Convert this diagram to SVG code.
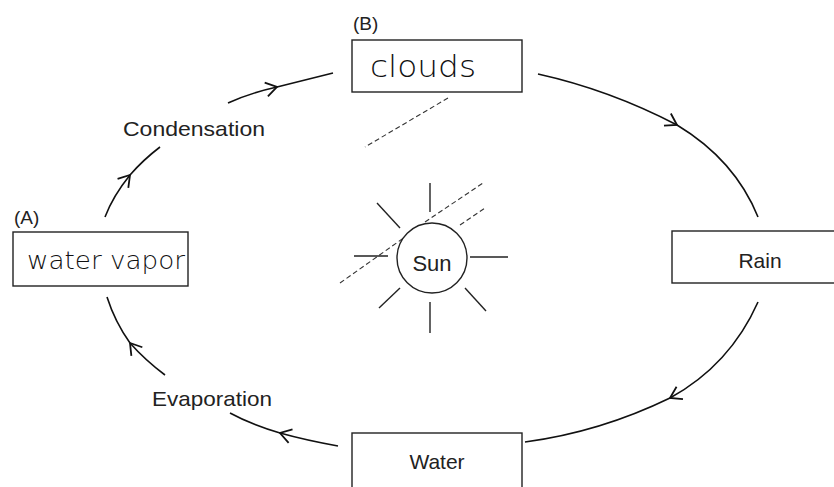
<svg xmlns="http://www.w3.org/2000/svg" width="834" height="487" viewBox="0 0 834 487">
<style>
.box{fill:#fff;stroke:#222;stroke-width:1.4}
.lbl{font-family:"Liberation Sans",Arial,sans-serif;fill:#222}
.hand{font-family:"DejaVu Sans","Liberation Sans",sans-serif;fill:#111;font-weight:300}
.conn{fill:none;stroke:#111;stroke-width:1.6;marker-mid:url(#arr)}
.ray{stroke:#222;stroke-width:1.4;fill:none}
.dash{stroke:#333;stroke-width:1.1;stroke-dasharray:5 3;fill:none}
</style>
<defs>
<marker id="arr" markerUnits="userSpaceOnUse" markerWidth="24" markerHeight="24" refX="0" refY="0" viewBox="-14 -12 24 24" orient="auto" overflow="visible">
<path d="M-11,-7 L0,0 L-11,7" fill="none" stroke="#111" stroke-width="1.8"/>
</marker>
</defs>
<rect width="834" height="487" fill="#fff"/>
<g id="connectors">
<path class="conn" d="M105,217 Q113,196 130,175 Q143,160 160,147"/>
<path class="conn" d="M228,103 Q250,93 277,87 Q305,80 333,73"/>
<path class="conn" d="M538,74 Q610,90 677,125 Q735,160 758,217"/>
<path class="conn" d="M758,302 Q730,365 670,398 Q600,432 525,442"/>
<path class="conn" d="M338,446 Q305,440 280,433 Q250,424 230,413"/>
<path class="conn" d="M165,375 Q145,360 130,343 Q115,322 107,297"/>
</g>
<g id="clouds">
<text class="lbl" x="353" y="30" font-size="19">(B)</text>
<rect class="box" x="352" y="40" width="170" height="52"/>
<text class="hand" x="370" y="77" font-size="30" textLength="106" lengthAdjust="spacingAndGlyphs">clouds</text>
</g>
<g id="water-vapor">
<text class="lbl" x="14" y="224" font-size="19">(A)</text>
<rect class="box" x="13" y="232" width="175" height="54"/>
<text class="hand" x="27" y="269" font-size="25" textLength="158" lengthAdjust="spacingAndGlyphs">water vapor</text>
</g>
<g id="rain">
<rect class="box" x="672" y="231" width="170" height="52"/>
<text class="lbl" x="760" y="268" font-size="21" text-anchor="middle">Rain</text>
</g>
<g id="water">
<rect class="box" x="352" y="433" width="170" height="60"/>
<text class="lbl" x="437" y="469" font-size="21" text-anchor="middle">Water</text>
</g>
<g id="condensation">
<text class="lbl" x="123" y="136" font-size="21" textLength="142" lengthAdjust="spacingAndGlyphs">Condensation</text>
</g>
<g id="evaporation">
<text class="lbl" x="152" y="406" font-size="21" textLength="120" lengthAdjust="spacingAndGlyphs">Evaporation</text>
</g>
<g id="sun">
<path class="dash" d="M448,98 L365,147"/>
<path class="dash" d="M340,283 L405,237"/>
<path class="dash" d="M425,222 L483,183"/>
<line class="ray" x1="430" y1="183" x2="430" y2="212"/>
<line class="ray" x1="377" y1="203" x2="400" y2="228"/>
<line class="ray" x1="354" y1="256" x2="388" y2="256"/>
<line class="ray" x1="470" y1="257" x2="508" y2="257"/>
<line class="ray" x1="379" y1="308" x2="400" y2="288"/>
<line class="ray" x1="430" y1="302" x2="430" y2="333"/>
<line class="ray" x1="465" y1="288" x2="486" y2="311"/>
<line class="dash" x1="460" y1="225" x2="485" y2="208"/>
<circle cx="432" cy="258" r="35" fill="#fff" stroke="#222" stroke-width="1.4"/>
<text class="lbl" x="432" y="271" font-size="22" text-anchor="middle">Sun</text>
</g>
</svg>
